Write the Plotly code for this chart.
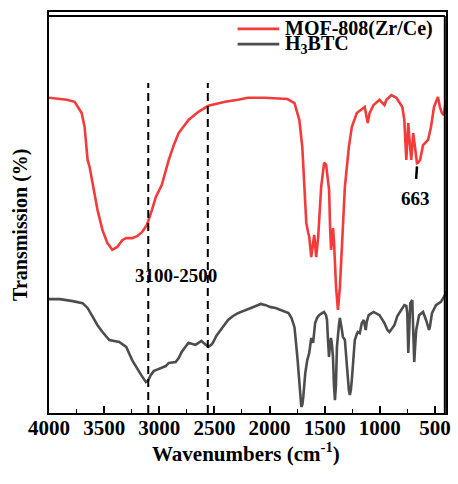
import plotly.graph_objects as go

# ---- data (wavenumber cm^-1, transmission in arbitrary %) ----
mof_wn = [4000, 3919, 3838, 3767, 3740, 3704, 3677, 3650, 3632, 3605, 3560, 3515, 3471, 3426,
          3381, 3336, 3300, 3246, 3201, 3157, 3112, 3067, 3031, 2977, 2932, 2914, 2869, 2824,
          2735, 2645, 2555, 2403, 2286, 2196, 2044, 1837, 1774, 1730, 1703, 1685, 1667, 1649,
          1640, 1622, 1595, 1577, 1559, 1532, 1505, 1487, 1460, 1451, 1442, 1424, 1415, 1397,
          1380, 1362, 1344, 1317, 1281, 1254, 1209, 1164, 1137, 1110, 1093, 1057, 1003, 958,
          940, 895, 850, 796, 778, 760, 742, 733, 715, 697, 679, 663, 652, 635, 608, 563, 536,
          509, 473, 455, 437, 419, 401]
mof_t = [78.6, 78.3, 78.1, 77.6, 76.3, 74.8, 71.3, 63.1, 61.4, 57.4, 50.6, 45.6, 42.4, 40.7,
         41.4, 43.1, 43.6, 43.6, 44.1, 45.1, 46.9, 50.6, 53.9, 56.9, 61.4, 63.1, 66.8, 69.8,
         73.1, 75.1, 76.6, 77.6, 78.1, 78.6, 78.6, 78.3, 77.3, 73.1, 66.3, 58.1, 47.4, 44.9,
         43.9, 38.9, 44.4, 38.9, 43.9, 56.4, 62.4, 61.9, 55.6, 46.1, 40.7, 46.1, 42.4, 31.4,
         25.7, 31.4, 43.1, 56.4, 66.3, 71.3, 74.8, 75.6, 76.3, 72.3, 74.8, 76.8, 78.1, 76.8,
         78.1, 79.3, 78.6, 76.3, 73.1, 63.1, 72.3, 68.8, 63.1, 69.8, 65.6, 62.3, 62.4, 63.1,
         66.8, 68.1, 71.3, 76.3, 78.8, 76.3, 74.8, 74.3, 78.1]

btc_wn = [4000, 3901, 3785, 3695, 3650, 3605, 3560, 3515, 3453, 3363, 3300, 3246, 3201, 3165,
          3121, 3103, 3076, 3049, 3031, 3004, 2977, 2941, 2914, 2878, 2851, 2824, 2797, 2762,
          2735, 2699, 2672, 2645, 2618, 2600, 2582, 2555, 2528, 2510, 2483, 2447, 2412, 2376,
          2331, 2286, 2223, 2169, 2124, 2080, 2035, 1990, 1945, 1900, 1855, 1828, 1801, 1774,
          1748, 1730, 1721, 1712, 1703, 1694, 1676, 1658, 1640, 1622, 1605, 1587, 1569, 1551,
          1524, 1506, 1488, 1479, 1470, 1461, 1452, 1443, 1434, 1425, 1416, 1407, 1398, 1389,
          1371, 1362, 1344, 1335, 1317, 1299, 1281, 1272, 1263, 1254, 1236, 1227, 1209, 1200,
          1182, 1164, 1146, 1128, 1119, 1101, 1057, 1003, 958, 931, 913, 886, 868, 841, 823,
          796, 778, 760, 751, 742, 733, 724, 706, 697, 688, 679, 670, 644, 608, 581, 554, 545,
          527, 491, 446, 410, 400]
btc_t = [28.4, 28.4, 27.9, 27.4, 26.2, 23.9, 21.9, 20.2, 18.2, 17.7, 16.5, 13.2, 11.0, 9.5,
         7.7, 8.0, 9.5, 10.5, 10.7, 11.0, 11.2, 11.7, 12.5, 12.7, 12.7, 13.7, 15.2, 16.5,
         17.5, 17.2, 17.0, 17.5, 18.0, 17.5, 17.0, 16.5, 17.0, 17.7, 19.2, 20.7, 21.9, 23.2,
         24.2, 24.9, 25.7, 26.2, 26.7, 27.2, 26.9, 26.4, 26.2, 25.7, 25.2, 24.9, 23.7, 21.4,
         14.0, 7.0, 4.0, 1.5, 2.0, 4.0, 10.0, 13.2, 15.0, 18.7, 17.5, 22.4, 23.7, 24.4,
         24.9, 25.2, 24.4, 23.2, 18.2, 14.0, 17.0, 18.7, 17.0, 14.0, 7.0, 3.2, 7.0, 16.5,
         21.9, 23.7, 20.7, 19.0, 18.2, 10.7, 5.7, 4.5, 5.7, 8.2, 14.5, 18.2, 19.7, 20.2,
         19.9, 22.4, 23.2, 20.7, 22.7, 24.4, 25.2, 24.4, 22.4, 20.7, 20.2, 21.2, 21.9, 24.2, 24.9,
         26.2, 26.9, 26.7, 24.9, 15.0, 20.7, 27.4, 28.2, 21.4, 12.7, 17.0, 20.7, 24.4, 25.2,
         23.2, 20.7, 21.7, 24.9, 26.9, 27.7, 29.4, 30.4]

series_names = ["MOF-808(Zr/Ce)", "H<sub>3</sub>BTC"]
series_colors = ["#F23B3B", "#4D4D4D"]
dash_wn = [3100, 2560]
dash_top = 82.3
peak_wn = 663
peak_label = "663"
range_label = "3100-2500"
x_tickvals = [4000, 3500, 3000, 2500, 2000, 1500, 1000, 500]
x_ticktext = ["4000", "3500", "3000", "2500", "2000", "1500", "1000", "500"]

FONT = "Liberation Serif, Times New Roman, serif"

fig = go.Figure()
fig.add_trace(go.Scatter(x=mof_wn, y=mof_t, mode="lines", name=series_names[0],
                         line=dict(color=series_colors[0], width=2.6), showlegend=False))
fig.add_trace(go.Scatter(x=btc_wn, y=btc_t, mode="lines", name=series_names[1],
                         line=dict(color=series_colors[1], width=2.6), showlegend=False))

# dashed guide lines
for w in dash_wn:
    fig.add_shape(type="line", xref="x", yref="y", x0=w, x1=w, y0=0, y1=dash_top,
                  line=dict(color="black", width=2, dash="8px,5px"))

# 663 marker
fig.add_shape(type="line", xref="x", yref="y", x0=peak_wn, x1=peak_wn + 8, y0=61.5, y1=58.4,
              line=dict(color="black", width=2.5))
fig.add_annotation(x=peak_wn + 15, y=53.6, xref="x", yref="y", text=peak_label, showarrow=False,
                   font=dict(family=FONT, size=19, color="black", weight="bold"))
fig.add_annotation(x=2851, y=34.4, xref="x", yref="y", text=range_label, showarrow=False,
                   font=dict(family=FONT, size=19, color="black", weight="bold"))

# legend (drawn manually)
leg_y = [0.958, 0.920]
for i in range(2):
    fig.add_shape(type="line", xref="paper", yref="paper", x0=0.475, x1=0.580,
                  y0=leg_y[i], y1=leg_y[i], line=dict(color=series_colors[i], width=2.6))
    fig.add_annotation(x=0.590, y=leg_y[i], xref="paper", yref="paper", text=series_names[i],
                       showarrow=False, xanchor="left", yanchor="middle",
                       font=dict(family=FONT, size=20, color="black", weight="bold"))

# plot frame: top and right edges drawn as separate lines (slightly inset so they stay visible)
fig.add_shape(type="line", xref="paper", yref="paper", x0=0, x1=0.997, y0=0.99, y1=0.99,
              line=dict(color="black", width=2))
fig.add_shape(type="line", xref="paper", yref="paper", x0=0.997, x1=0.997, y0=0, y1=0.99,
              line=dict(color="black", width=2))

# axis titles (placed as annotations to match the reference offsets)
fig.add_annotation(x=-0.072, y=0.47, xref="paper", yref="paper", text="Transmission (%)",
                   textangle=-90, showarrow=False, xanchor="center", yanchor="middle",
                   font=dict(family=FONT, size=20, color="black", weight="bold"))
fig.add_annotation(x=0.497, y=-0.098, xref="paper", yref="paper",
                   text="Wavenumbers (cm<sup>-1</sup>)",
                   showarrow=False, xanchor="center", yanchor="middle",
                   font=dict(family=FONT, size=21, color="black", weight="bold"))

fig.update_layout(
    width=458, height=484,
    margin=dict(l=49, r=7, t=12, b=71),
    paper_bgcolor="white", plot_bgcolor="white",
    font=dict(family=FONT, color="black", weight="bold"),
    showlegend=False,
)
fig.update_xaxes(
    range=[4000, 400], showgrid=False, zeroline=False,
    showline=True, linecolor="black", linewidth=1.6, mirror=True,
    tickmode="array", tickvals=x_tickvals, ticktext=x_ticktext,
    ticks="inside", ticklen=7, tickwidth=1.6, tickcolor="black",
    minor=dict(tickmode="linear", tick0=0, dtick=250, ticks="inside", ticklen=4,
               tickwidth=1.2, tickcolor="black"),
    tickfont=dict(family=FONT, size=21, color="black", weight="bold"),
    ticklabelstandoff=-5,
)
fig.update_yaxes(
    range=[0, 100], showgrid=False, zeroline=False,
    showline=True, linecolor="black", linewidth=1.6, mirror=True,
    showticklabels=False, ticks="",
)

fig.write_html("out.html", config={"displayModeBar": False},
               post_script="document.body.style.margin='0';document.body.style.overflow='hidden';")
